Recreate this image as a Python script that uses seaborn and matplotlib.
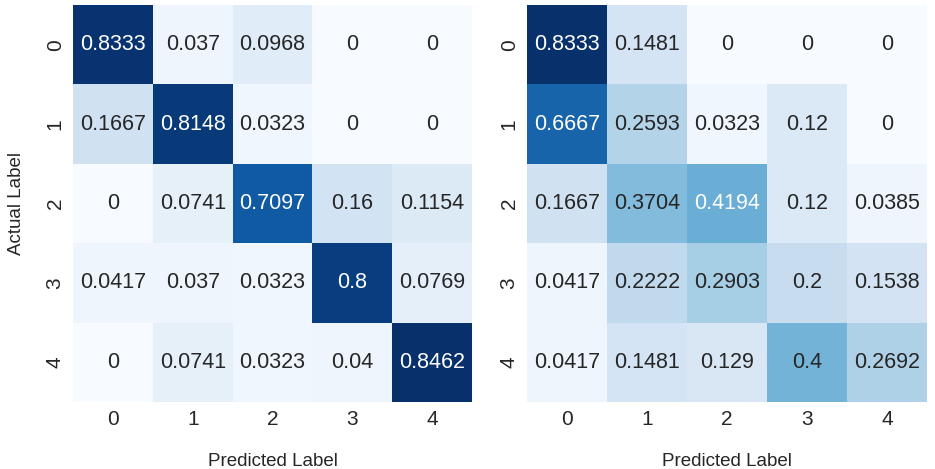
import numpy as np
import pandas as pd
import matplotlib
matplotlib.use("Agg")
import matplotlib.pyplot as plt
import seaborn as sns

labels = [0, 1, 2, 3, 4]

# left confusion matrix (rows = actual, cols = predicted)
cm_left = [
    [0.8333, 0.037, 0.0968, 0, 0],
    [0.1667, 0.8148, 0.0323, 0, 0],
    [0, 0.0741, 0.7097, 0.16, 0.1154],
    [0.0417, 0.037, 0.0323, 0.8, 0.0769],
    [0, 0.0741, 0.0323, 0.04, 0.8462],
]

# right confusion matrix
cm_right = [
    [0.8333, 0.1481, 0, 0, 0],
    [0.6667, 0.2593, 0.0323, 0.12, 0],
    [0.1667, 0.3704, 0.4194, 0.12, 0.0385],
    [0.0417, 0.2222, 0.2903, 0.2, 0.1538],
    [0.0417, 0.1481, 0.129, 0.4, 0.2692],
]

sns.set_theme(style="white")
plt.rcParams['font.family'] = ['Liberation Sans', 'DejaVu Sans']

fig = plt.figure(figsize=(9.35, 4.69), dpi=100)
W, H = 935, 469
ax_left = fig.add_axes([73 / W, (H - 402) / H, 399 / W, 397 / H])
ax_right = fig.add_axes([527 / W, (H - 402) / H, 400 / W, 397 / H])

for ax, cm in [(ax_left, cm_left), (ax_right, cm_right)]:
    df = pd.DataFrame(cm, index=labels, columns=labels)
    sns.heatmap(df, annot=True, fmt="g", cmap="Blues", cbar=False, ax=ax,
                annot_kws={"size": 15.5})
    ax.tick_params(axis="both", labelsize=15, length=0, pad=6)
    ax.set_xlabel("Predicted Label", fontsize=13.5, labelpad=17)

ax_left.set_ylabel("Actual Label", fontsize=13.5, labelpad=15)
ax_right.set_ylabel("")

fig.savefig("out.png", dpi=100)
